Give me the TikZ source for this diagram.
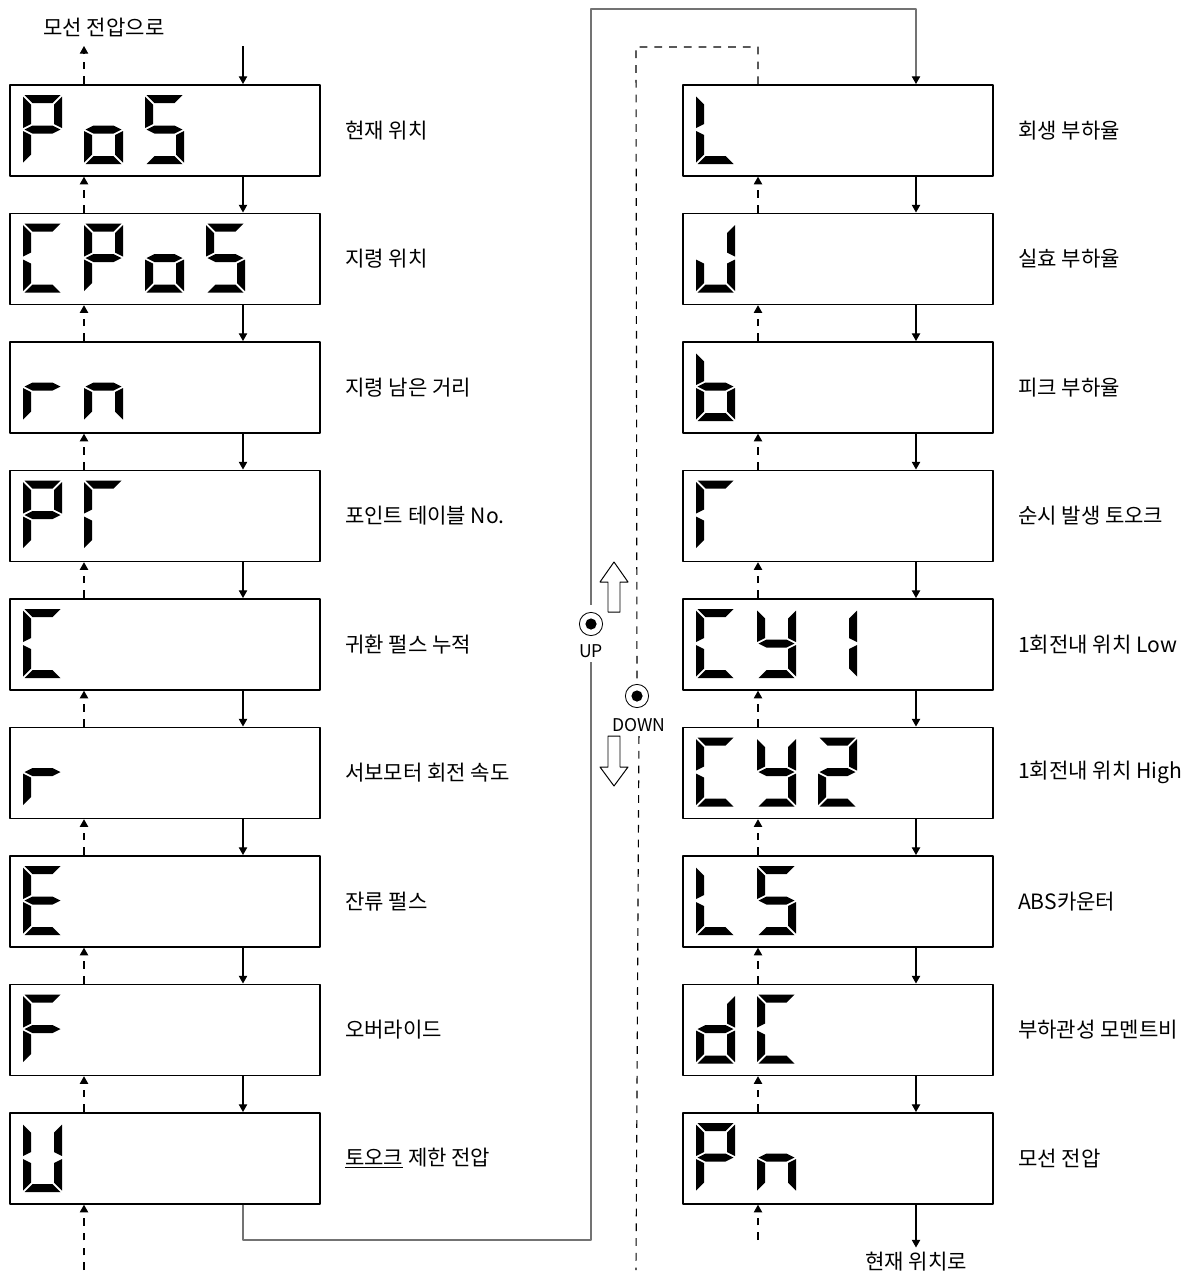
\documentclass[tikz,border=0pt]{standalone}
\usepackage{fontspec}
\setmainfont{Noto Sans CJK KR}
\usetikzlibrary{arrows.meta,calc,positioning}

\tikzset{
	seg -/.style={},
	seg a/.style={insert path={(1.5,0)--(37.5,0)--(29.5,8)--(9.5,8)--cycle}},
	seg b/.style={insert path={(39,1.5)--(31,9.5)--(31,29)--(39,33)--cycle}},
	seg c/.style={insert path={(39,36)--(31,40)--(31,59.5)--(39,67.5)--cycle}},
	seg d/.style={insert path={(1.5,69)--(37.5,69)--(29.5,61)--(9.5,61)--cycle}},
	seg e/.style={insert path={(0,36)--(8,40)--(8,59.5)--(0,67.5)--cycle}},
	seg f/.style={insert path={(0,1.5)--(8,9.5)--(8,29)--(0,33)--cycle}},
	seg g/.style={insert path={(1.5,34.5)--(9.5,30.5)--(29.5,30.5)--(37.5,34.5)--(29.5,38.5)--(9.5,38.5)--cycle}},
	pics/digit/.style={code={
			\foreach \s in {#1}{\fill[seg \s];}
	}},
	pics/lcd/.style args={#1|#2|#3|#4}{code={
			\pic at (14,11) {digit={#1}};
			\pic at (75,11) {digit={#2}};
			\pic at (136,11) {digit={#3}};
			\pic at (197,11) {digit={#4}};
	}}
}

\begin{document}
\begin{tikzpicture}[x=0.025cm,y=-0.025cm,line join=round,
	font=\fontsize{15pt}{18pt}\selectfont,
	>={Triangle[length=5.5pt,width=6pt]},
	lcdbox/.style={draw,line width=1.2pt,minimum width=7.75cm,minimum height=2.275cm,inner sep=0pt,anchor=north west},
	fwd/.style={->,line width=0.8pt},
	back/.style={->,line width=0.8pt,dash pattern=on 5.5pt off 5pt},
	dashloop/.style={line width=0.8pt,dash pattern=on 5.5pt off 5pt},
	wrapline/.style={line width=0.8pt,black!55},
	caption/.style={inner sep=0pt},
	button/.style={circle,draw,line width=0.6pt,minimum size=0.58cm,inner sep=0pt,fill=white},
	btnlabel/.style={font=\fontsize{12.5pt}{14pt}\selectfont,inner sep=3pt}]
	\useasboundingbox (0,0) rectangle (1194,1276);
	
	\foreach \i in {1,...,9}{
		\node[lcdbox] (L\i) at (9,{84+128.5*(\i-1)}) {};
		\node[lcdbox] (R\i) at (682,{84+128.5*(\i-1)}) {};
	}
	
	% displays
	\pic at (L1.north west) {lcd={a,b,e,f,g|c,d,e,g|a,c,d,f,g|-}};
	\pic at (L2.north west) {lcd={a,d,e,f|a,b,e,f,g|c,d,e,g|a,c,d,f,g}};
	\pic at (L3.north west) {lcd={e,g|c,e,g|-|-}};
	\pic at (L4.north west) {lcd={a,b,e,f,g|a,e,f|-|-}};
	\pic at (L5.north west) {lcd={a,d,e,f|-|-|-}};
	\pic at (L6.north west) {lcd={e,g|-|-|-}};
	\pic at (L7.north west) {lcd={a,d,e,f,g|-|-|-}};
	\pic at (L8.north west) {lcd={a,e,f,g|-|-|-}};
	\pic at (L9.north west) {lcd={b,c,d,e,f|-|-|-}};
	\pic at (R1.north west) {lcd={d,e,f|-|-|-}};
	\pic at (R2.north west) {lcd={b,c,d,e|-|-|-}};
	\pic at (R3.north west) {lcd={c,d,e,f,g|-|-|-}};
	\pic at (R4.north west) {lcd={a,e,f|-|-|-}};
	\pic at (R5.north west) {lcd={a,d,e,f|b,c,d,f,g|b,c|-}};
	\pic at (R6.north west) {lcd={a,d,e,f|b,c,d,f,g|a,b,d,e,g|-}};
	\pic at (R7.north west) {lcd={d,e,f|a,c,d,f,g|-|-}};
	\pic at (R8.north west) {lcd={b,c,d,e,g|a,d,e,f|-|-}};
	\pic at (R9.north west) {lcd={a,b,e,f,g|c,e,g|-|-}};
	
	\foreach \n/\t in {L1/현재 위치,L2/지령 위치,L3/지령 남은 거리,L4/포인트 테이블 No.,
		L5/귀환 펄스 누적,L6/서보모터 회전 속도,L7/잔류 펄스,L8/오버라이드,
		L9/\underline{토오크} 제한 전압,R1/회생 부하율,R2/실효 부하율,R3/피크 부하율,
		R4/순시 발생 토오크,R5/1회전내 위치 Low,R6/1회전내 위치 High,R7/ABS카운터,
		R8/부하관성 모멘트비,R9/모선 전압}
	\node[caption,right=0.6cm of \n] {\t};
	
	\coordinate (ls) at (243,0);
	\coordinate (ld) at (84,0);
	\coordinate (rs) at (916,0);
	\coordinate (rd) at (758,0);
	\foreach \i [evaluate=\i as \j using int(\i+1)] in {1,...,8}{
		\draw[fwd] (L\i.south -| ls) -- (L\j.north -| ls);
		\draw[back] (L\j.north -| ld) -- (L\i.south -| ld);
		\draw[fwd] (R\i.south -| rs) -- (R\j.north -| rs);
		\draw[back] (R\j.north -| rd) -- (R\i.south -| rd);
	}
	
	% ends of the columns
	\node (toBus) at (104,27) {모선 전압으로};
	\coordinate (busTip) at (84,46);
	\coordinate (inTop) at (243,46);
	\draw[back] (L1.north -| ld) -- (busTip);
	\draw[fwd] (inTop) -- (L1.north -| ls);
	\coordinate (ldBot) at (84,1270);
	\draw[back] (ldBot) -- (L9.south -| ld);
	\coordinate (rdBot) at (758,1240);
	\draw[back] (rdBot) -- (R9.south -| rd);
	\node (toPos) at (916,1262) {현재 위치로};
	\draw[fwd] (R9.south -| rs) -- (toPos);
	
	% UP / DOWN
	\node[button] (upBtn) at (591,624) {};
	\node[btnlabel] (upLbl) at (591,651) {UP};
	\node[button] (downBtn) at (637,696) {};
	\node[btnlabel] (downLbl) at (639,725) {DOWN};
	\fill (upBtn.center) circle (0.14cm);
	\fill (downBtn.center) circle (0.14cm);
	\coordinate (lowTurn) at (591,1240);
	\coordinate (highTurn) at (591,9);
	\draw[wrapline] (L9.south -| ls) |- (lowTurn) -- (upLbl);
	\draw[wrapline,-{Triangle[length=5.5pt,width=6pt,black]},shorten <=5pt] (upBtn) -- (highTurn) -| (R1.north -| rs);
	\coordinate (dTop) at (636,47);
	\coordinate (dBot) at (636,1270);
	\draw[dashloop] (R1.north -| rd) |- (dTop) -- (downBtn);
	\draw[dashloop] (downLbl) -- (dBot);
	\draw[line width=0.7pt] (614,562) -- (628,582) -- (620,582) -- (620,612) -- (608,612) -- (608,582) -- (600,582) -- cycle;
	\draw[line width=0.7pt] (614,786) -- (628,767) -- (620,767) -- (620,736) -- (608,736) -- (608,767) -- (600,767) -- cycle;
\end{tikzpicture}
\end{document}
